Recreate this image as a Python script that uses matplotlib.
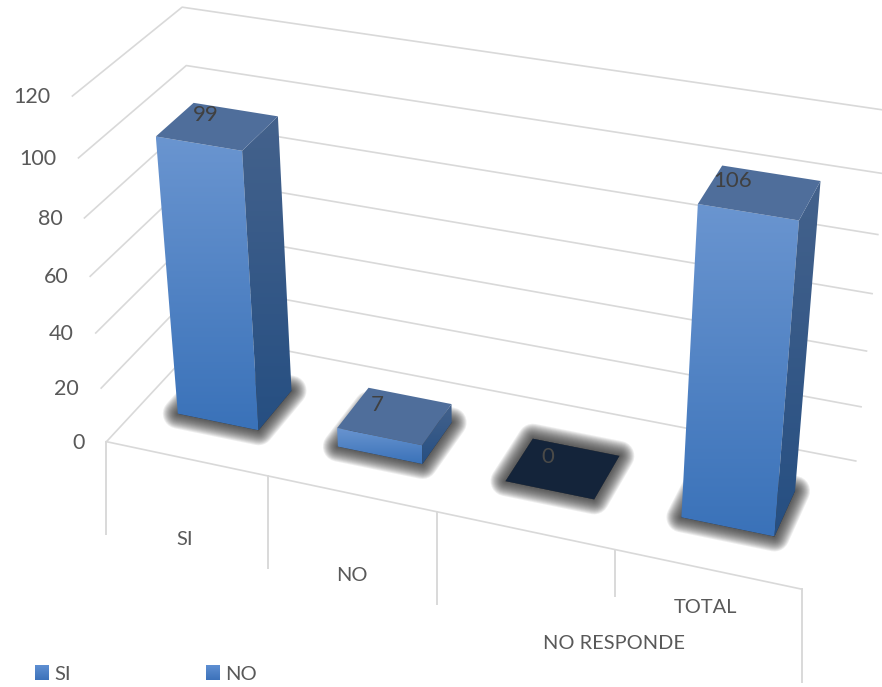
import numpy as np
import matplotlib
matplotlib.use("Agg")
import matplotlib.pyplot as plt
from matplotlib.patches import Polygon
from matplotlib.colors import LinearSegmentedColormap

# ---- data ----
categories = ["SI", "NO", "NO RESPONDE", "TOTAL"]
values = [99, 7, 0, 106]
value_ticks = [0, 20, 40, 60, 80, 100, 120]
legend_labels = ["SI", "NO"]

# ---- camera calibration: (category pos, depth, value) -> pixel ----
world_refs = [(0,0,0),(1,0,0),(2,0,0),(3,0,0),(4,0,0),(0,0,100),(0,0,120),
              (0,1,100),(0,1,120),(4,1,0),(4,1,20),(4,1,80),(4,1,120)]
pixel_refs = [(107,442),(268,476),(437,512),(614,550),(802,589),(78,157),(73,96),
              (186,66),(182,7),(856,461),(861,406),(878,234),(890,112)]

def fit_camera(world, pixel):
    rows = []
    for (x, y, z), (u, v) in zip(world, pixel):
        X = [x / 4, y, z / 120, 1]
        u, v = u / 1000, v / 1000
        rows.append(X + [0, 0, 0, 0] + [-u * c for c in X])
        rows.append([0, 0, 0, 0] + X + [-v * c for c in X])
    return np.linalg.svd(np.array(rows))[2][-1].reshape(3, 4)

CAM = fit_camera(world_refs, pixel_refs)

def project(x, y, z):
    p = CAM @ np.array([x / 4, y, z / 120, 1])
    return (1000 * p[0] / p[2], 1000 * p[1] / p[2])

# ---- style ----
GRID = "#d9d9d9"
TEXT = "#595959"
LABEL = "#404040"
FS_TICK = 15.5
FS_CAT = 14.4
FS_LABEL = 16
FS_LEG = 14.5
BAR_GAP = 0.245      # margin each side of a bar, category units
BAR_DEPTH = 0.32     # margin front/back of a bar, depth units
tick_drop = [92, 92, 92, 46, 93]
cat_offset = [(-2, 81), (0, 82), (89, 113), (-2, 38)]
label_dx = [-12, -18, -15, -27]
SHADOW_REACH = 15    # px
SHADOW_LAYERS = 16

plt.rcParams["font.family"] = ["Lato", "DejaVu Sans"]
fig = plt.figure(figsize=(8.82, 6.87), dpi=100)
ax = fig.add_axes([0, 0, 1, 1])
W, H = 882, 687

def gradient_face(pts, top, bottom, zorder):
    pts = np.array(pts)
    cmap = LinearSegmentedColormap.from_list("f", [top, bottom])
    x0, x1 = pts[:, 0].min(), pts[:, 0].max()
    y0, y1 = pts[:, 1].min(), pts[:, 1].max()
    im = ax.imshow(np.linspace(0, 1, 128).reshape(-1, 1), cmap=cmap, aspect="auto",
                   extent=(x0, x1, y1, y0), zorder=zorder, interpolation="bilinear")
    patch = Polygon(pts, closed=True, transform=ax.transData, fc="none", ec="none")
    ax.add_patch(patch)
    im.set_clip_path(patch)

def shadow(pts, zorder):
    for reach in np.linspace(SHADOW_REACH, 1, SHADOW_LAYERS):
        lw_pt = 2 * reach * 72 / fig.dpi
        ax.add_patch(Polygon(pts, closed=True, fc="#333333", ec="#333333", lw=lw_pt,
                             alpha=0.085, joinstyle="round", zorder=zorder))

# ---- walls and floor ----
for v in value_ticks:
    a, b, c = project(0, 0, v), project(0, 1, v), project(4, 1, v)
    ax.plot([a[0], b[0], c[0]], [a[1], b[1], c[1]], color=GRID, lw=1.2, zorder=1)
    ax.text(a[0] - 22, a[1] + 1, str(v), ha="right", va="center", fontsize=FS_TICK, color=TEXT, zorder=6)

f0, f1 = project(0, 0, 0), project(4, 0, 0)
ax.plot([f0[0], f1[0]], [f0[1], f1[1]], color=GRID, lw=1.2, zorder=1)
for pos, drop in enumerate(tick_drop):
    t = project(pos, 0, 0)
    ax.plot([t[0], t[0]], [t[1], t[1] + drop], color=GRID, lw=1.4, zorder=1)

# ---- bars ----
for i, (name, val) in enumerate(zip(categories, values)):
    x0, x1 = i + BAR_GAP, i + 1 - BAR_GAP
    y0, y1 = BAR_DEPTH, 1 - BAR_DEPTH
    footprint = [project(x0, y0, 0), project(x1, y0, 0), project(x1, y1, 0), project(x0, y1, 0)]
    shadow(footprint, 2)
    top = [project(x0, y0, val), project(x1, y0, val), project(x1, y1, val), project(x0, y1, val)]
    if val > 0:
        gradient_face([top[0], top[1], footprint[1], footprint[0]], "#6a95d0", "#3a72b9", 3)
        gradient_face([top[1], top[2], footprint[2], footprint[1]], "#44628c", "#264f82", 3)
        ax.add_patch(Polygon(top, closed=True, fc="#4f6e9b", ec="none", zorder=4))
    else:
        ax.add_patch(Polygon(top, closed=True, fc="#14243a", ec="none", zorder=4))
    cx, cy = project(i + .5, .5, val)
    ax.text(cx + label_dx[i], cy - 11, str(val), ha="center", va="center", fontsize=FS_LABEL,
            color=LABEL if val > 0 else "#4a4a48", zorder=6)
    mx, my = project(i + .5, 0, 0)
    ax.text(mx + cat_offset[i][0], my + cat_offset[i][1], name, ha="center", va="center",
            fontsize=FS_CAT, color=TEXT, zorder=6)

# ---- legend ----
for lbl, x in zip(legend_labels, [35, 206]):
    gradient_face([(x, 665), (x + 14, 665), (x + 14, 680), (x, 680)], "#5f8fd2", "#3c72ba", 5)
    ax.text(x + 19, 675, lbl, ha="left", va="center", fontsize=FS_LEG, color=TEXT, zorder=6)

ax.set_xlim(0, W)
ax.set_ylim(H, 0)
ax.axis("off")
fig.savefig("out.png", dpi=100, facecolor="white")
